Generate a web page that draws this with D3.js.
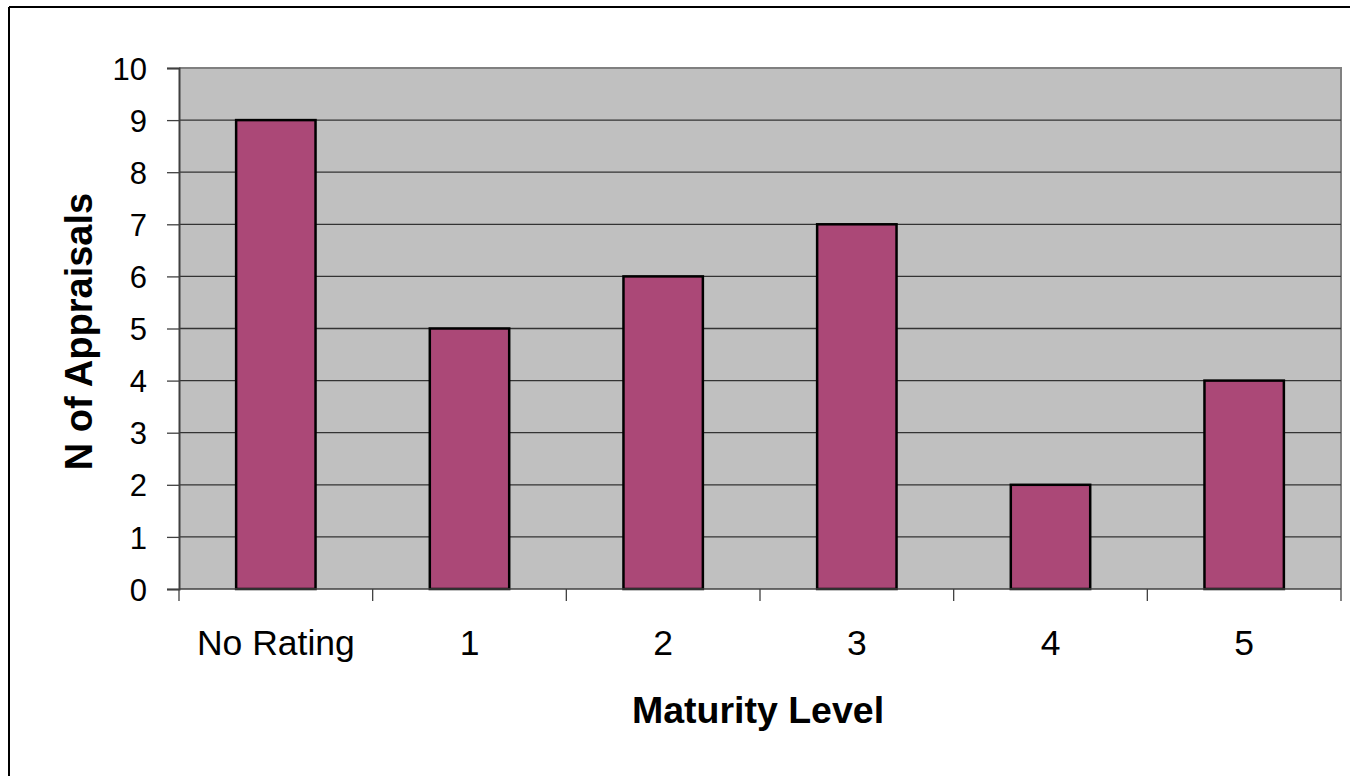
<!DOCTYPE html>
<html>
<head>
<meta charset="utf-8">
<script src="https://cdn.jsdelivr.net/npm/d3@7"></script>
<style>
  html, body { margin: 0; padding: 0; background: #fff; }
  svg { display: block; }
  text { font-family: "Liberation Sans", Arial, sans-serif; fill: #000; }
</style>
</head>
<body>
<svg id="chart" width="1350" height="776"></svg>
<script>
const categories = ["No Rating", "1", "2", "3", "4", "5"];
const values = [9, 5, 6, 7, 2, 4];
const yTicks = [0, 1, 2, 3, 4, 5, 6, 7, 8, 9, 10];
const xTitle = "Maturity Level";
const yTitle = "N of Appraisals";

(function () {
const svg = d3.select("#chart");
const pL = 179, pR = 1341, pT = 68, pB = 589;

// outer frame (top and left visible)
svg.append("line").attr("x1", 9).attr("x2", 1350).attr("y1", 7).attr("y2", 7)
  .attr("stroke", "#000").attr("stroke-width", 2);
svg.append("line").attr("x1", 9).attr("x2", 9).attr("y1", 7).attr("y2", 776)
  .attr("stroke", "#000").attr("stroke-width", 2);

const x = d3.scaleBand().domain(categories).range([pL, pR]).padding(0);
const y = d3.scaleLinear().domain([0, 10]).range([pB, pT]);

// plot area
svg.append("rect").attr("x", pL).attr("y", pT)
  .attr("width", pR - pL).attr("height", pB - pT)
  .attr("fill", "#C0C0C0");
svg.append("path")
  .attr("d", `M${pL},${pT}H${pR}V${pB}`)
  .attr("fill", "none").attr("stroke", "#808080").attr("stroke-width", 2);

// gridlines
svg.append("g").selectAll("line").data(yTicks.filter(d => d > 0 && d < 10)).join("line")
  .attr("x1", pL).attr("x2", pR)
  .attr("y1", d => y(d)).attr("y2", d => y(d))
  .attr("stroke", "#333").attr("stroke-width", 1.3);

// bars
const bw = x.bandwidth() * 0.41;
svg.append("g").selectAll("rect").data(values).join("rect")
  .attr("x", (d, i) => x(categories[i]) + x.bandwidth() / 2 - bw / 2)
  .attr("y", d => y(d))
  .attr("width", bw)
  .attr("height", d => y(0) - y(d))
  .attr("fill", "#AB4877")
  .attr("stroke", "#000").attr("stroke-width", 2.5);

// y axis
const yAxis = d3.axisLeft(y).tickValues(yTicks).tickSize(12).tickPadding(20).tickFormat(d3.format("d"));
const gy = svg.append("g").attr("transform", `translate(${pL},0)`).call(yAxis);
gy.select(".domain").attr("stroke", "#404040").attr("stroke-width", 2);
gy.selectAll(".tick line").attr("stroke", "#404040").attr("stroke-width", 1.3);
gy.selectAll(".tick text")
  .style("font-family", '"Liberation Sans", Arial, sans-serif')
  .style("font-size", "31px").attr("fill", "#000").attr("dy", "0.36em");

// x axis (ticks at band boundaries)
const gx = svg.append("g").attr("transform", `translate(0,${pB})`);
gx.append("line").attr("x1", pL).attr("x2", pR).attr("y1", 0).attr("y2", 0)
  .attr("stroke", "#404040").attr("stroke-width", 1.5);
const boundaries = categories.map(c => x(c)).concat([x(categories[categories.length - 1]) + x.bandwidth()]);
gx.selectAll("line.tk").data(boundaries).join("line").attr("class", "tk")
  .attr("x1", d => d).attr("x2", d => d).attr("y1", 0).attr("y2", 12)
  .attr("stroke", "#404040").attr("stroke-width", 1.3);
gx.selectAll("text").data(categories).join("text")
  .attr("x", d => x(d) + x.bandwidth() / 2)
  .attr("y", 655 - pB)
  .attr("text-anchor", "middle")
  .style("font-size", "35.5px")
  .text(d => d);

// titles
svg.append("text").attr("x", (pL + pR) / 2 - 2).attr("y", 723)
  .attr("text-anchor", "middle").style("font-size", "37.5px").style("font-weight", "bold")
  .text(xTitle);
svg.append("text").attr("transform", "translate(92,331.5) rotate(-90)")
  .attr("text-anchor", "middle").style("font-size", "38px").style("font-weight", "bold")
  .text(yTitle);
})();
</script>
</body>
</html>
